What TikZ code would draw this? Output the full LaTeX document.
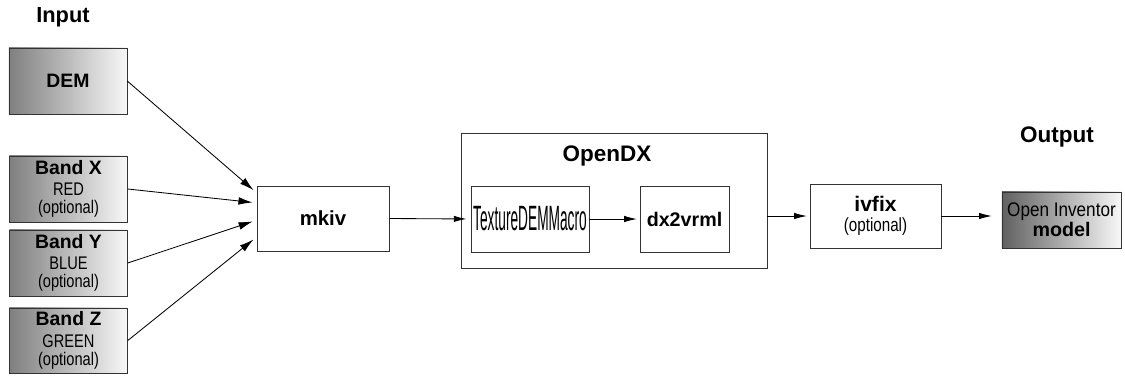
\documentclass[tikz,border=0pt]{standalone}
\usepackage{fontspec}
\setmainfont{Liberation Sans}
\usetikzlibrary{arrows.meta}

\newcommand{\slim}[1]{\scalebox{0.8}[1]{#1}}

\begin{document}
\begin{tikzpicture}[x=0.025cm, y=-0.025cm,
    source/.style={draw=black!80, inner sep=0pt, left color=black!50, right color=black!3,
        minimum width=2.95cm, minimum height=1.65cm, align=center,
        font=\fontsize{13}{13}\selectfont},
    tool/.style={draw=black!80, fill=white, inner sep=0pt, align=center,
        font=\fontsize{13.5}{14}\selectfont},
    title/.style={font=\bfseries\fontsize{15.5}{16}\selectfont},
    feed/.style={-{Latex[length=10pt,width=5.5pt]}, line width=0.6pt, shorten >=3pt},
    flow/.style={-{Latex[length=9pt,width=4.5pt]}, line width=0.6pt}]
    \useasboundingbox (0,0) rectangle (1125,377);
    % titles
    \node[title] at (63,17) (input) {Input};
    \node[title, font=\bfseries\fontsize{16}{16}\selectfont] at (1057,137) (output) {Output};
    % inputs
    \node[source] at (68,81) (dem) {\textbf{\fontsize{13.8}{14}\selectfont DEM}};
    \node[source] at (68.5,189) (bandx) {\textbf{\fontsize{13.8}{13}\selectfont Band X}\\[2pt]\slim{RED}\\\slim{(optional)}};
    \node[source] at (68.5,263) (bandy) {\textbf{\fontsize{13.8}{13}\selectfont Band Y}\\[2pt]\slim{BLUE}\\\slim{(optional)}};
    \node[source, minimum height=1.625cm] at (68.5,340.5) (bandz) {\textbf{\fontsize{13.8}{13}\selectfont Band Z}\\[2pt]\slim{GREEN}\\\slim{(optional)}};
    % tools
    \node[tool, minimum width=3.3cm, minimum height=1.625cm] at (323,218.5) (mkiv) {\textbf{\fontsize{14.5}{15}\selectfont mkiv}};
    \node[tool, minimum width=7.65cm, minimum height=3.375cm] at (614,200.5) (opendx) {};
    \node[title, font=\bfseries\fontsize{16}{16}\selectfont] at (607,156) (opendxlabel) {OpenDX};
    \node[tool, minimum width=2.95cm, minimum height=1.65cm] at (530,219) (texture) {\scalebox{0.39}[1]{\fontsize{25}{25}\selectfont TextureDEMMacro}};
    \node[tool, minimum width=2.225cm, minimum height=1.65cm] at (684.5,219) (dxvrml) {\textbf{\fontsize{14}{14}\selectfont dx2vrml}};
    \node[tool, minimum width=3.275cm, minimum height=1.6cm] at (875.5,216) (ivfix) {\textbf{\fontsize{15}{15}\selectfont ivfix}\\\slim{(optional)}};
    \node[source, left color=black!62, minimum width=2.975cm, minimum height=1.4cm,
        font=\fontsize{14}{12}\selectfont] at (1061.5,220) (model) {\scalebox{0.87}[1]{\fontsize{14}{12}\selectfont Open Inventor}\\\textbf{\fontsize{14}{12}\selectfont model}};
    % connectors
    \path [feed] (dem.east) edge ([yshift=0.64cm]mkiv.west);
    \path [feed] (bandx.east) edge ([yshift=0.39cm]mkiv.west);
    \path [feed] (bandy.east) edge ([yshift=-0.04cm]mkiv.west);
    \path [feed] (bandz.east) edge ([yshift=-0.46cm]mkiv.west);
    \path [flow, shorten >=3pt] (mkiv.east) edge (texture.west);
    \path [flow, shorten >=2pt] (texture.east) edge (dxvrml.west);
    \path [flow, shorten >=2pt] (opendx.east |- ivfix.west) edge (ivfix.west);
    \path [flow, shorten >=7pt] (ivfix.east) edge (model.west |- ivfix.east);
\end{tikzpicture}
\end{document}
